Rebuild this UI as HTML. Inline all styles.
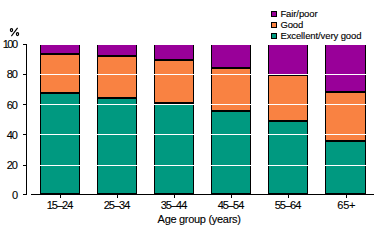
<!DOCTYPE html>
<html><head><meta charset="utf-8"><style>
html,body{margin:0;padding:0;background:#fff;width:378px;height:227px;overflow:hidden}
svg{display:block}
text{font-family:"Liberation Sans",sans-serif;fill:#000;stroke:#000;stroke-width:0.12px}
</style></head><body>
<svg width="378" height="227" viewBox="0 0 378 227">
<g shape-rendering="crispEdges">
<rect x="40" y="45" width="40" height="150" fill="#000"/>
<rect x="41" y="45" width="38" height="8" fill="#990099"/>
<rect x="41" y="55" width="38" height="37" fill="#F98242"/>
<rect x="41" y="94" width="38" height="99" fill="#009980"/>
<rect x="97" y="45" width="40" height="150" fill="#000"/>
<rect x="98" y="45" width="38" height="10" fill="#990099"/>
<rect x="98" y="57" width="38" height="40" fill="#F98242"/>
<rect x="98" y="99" width="38" height="94" fill="#009980"/>
<rect x="154" y="45" width="40" height="150" fill="#000"/>
<rect x="155" y="45" width="38" height="14" fill="#990099"/>
<rect x="155" y="61" width="38" height="41" fill="#F98242"/>
<rect x="155" y="104" width="38" height="89" fill="#009980"/>
<rect x="211" y="45" width="40" height="150" fill="#000"/>
<rect x="212" y="45" width="38" height="22" fill="#990099"/>
<rect x="212" y="69" width="38" height="41" fill="#F98242"/>
<rect x="212" y="112" width="38" height="81" fill="#009980"/>
<rect x="268" y="45" width="40" height="150" fill="#000"/>
<rect x="269" y="45" width="38" height="29" fill="#990099"/>
<rect x="269" y="76" width="38" height="44" fill="#F98242"/>
<rect x="269" y="122" width="38" height="71" fill="#009980"/>
<rect x="325" y="45" width="41" height="150" fill="#000"/>
<rect x="326" y="45" width="39" height="46" fill="#990099"/>
<rect x="326" y="93" width="39" height="47" fill="#F98242"/>
<rect x="326" y="142" width="39" height="51" fill="#009980"/>
<rect x="31" y="165" width="343" height="1" fill="#fff"/>
<rect x="31" y="134" width="343" height="1" fill="#fff"/>
<rect x="31" y="104" width="343" height="1" fill="#fff"/>
<rect x="31" y="74" width="343" height="1" fill="#fff"/>
<rect x="26" y="44" width="1" height="151" fill="#000"/>
<rect x="23" y="194" width="4" height="1" fill="#000"/>
<rect x="23" y="165" width="4" height="1" fill="#000"/>
<rect x="23" y="134" width="4" height="1" fill="#000"/>
<rect x="23" y="104" width="4" height="1" fill="#000"/>
<rect x="23" y="74" width="4" height="1" fill="#000"/>
<rect x="23" y="44" width="4" height="1" fill="#000"/>
<rect x="31" y="194" width="343" height="1" fill="#000"/>
<rect x="60" y="195" width="1" height="3" fill="#000"/>
<rect x="117" y="195" width="1" height="3" fill="#000"/>
<rect x="174" y="195" width="1" height="3" fill="#000"/>
<rect x="231" y="195" width="1" height="3" fill="#000"/>
<rect x="288" y="195" width="1" height="3" fill="#000"/>
<rect x="346" y="195" width="1" height="3" fill="#000"/>
<rect x="271" y="11" width="6" height="6" fill="#000"/>
<rect x="272" y="12" width="4" height="4" fill="#990099"/>
<rect x="271" y="22" width="6" height="6" fill="#000"/>
<rect x="272" y="23" width="4" height="4" fill="#F98242"/>
<rect x="271" y="33" width="6" height="6" fill="#000"/>
<rect x="272" y="34" width="4" height="4" fill="#009980"/>
</g>
<g>
<text x="17" y="199" text-anchor="end" font-size="11" letter-spacing="-1" >0</text>
<text x="17" y="169" text-anchor="end" font-size="11" letter-spacing="-1" >20</text>
<text x="17" y="139" text-anchor="end" font-size="11" letter-spacing="-1" >40</text>
<text x="17" y="109" text-anchor="end" font-size="11" letter-spacing="-1" >60</text>
<text x="17" y="78" text-anchor="end" font-size="11" letter-spacing="-1" >80</text>
<text x="16.5" y="48" text-anchor="end" font-size="11" letter-spacing="-1.5" >100</text>
<ellipse cx="11.5" cy="30" rx="1.1" ry="1.5" stroke="#000" stroke-width="1.25" fill="none"/><ellipse cx="17.5" cy="34" rx="1.1" ry="1.5" stroke="#000" stroke-width="1.25" fill="none"/>
<path d="M17.6 27.8L11.4 36.2" stroke="#000" stroke-width="1.1" fill="none"/>
<text x="59.5" y="209" text-anchor="middle" font-size="11" letter-spacing="-1" >15–24</text>
<text x="116.5" y="209" text-anchor="middle" font-size="11" letter-spacing="-1" >25–34</text>
<text x="173.5" y="209" text-anchor="middle" font-size="11" letter-spacing="-1" >35–44</text>
<text x="230.5" y="209" text-anchor="middle" font-size="11" letter-spacing="-1" >45–54</text>
<text x="287.5" y="209" text-anchor="middle" font-size="11" letter-spacing="-1" >55–64</text>
<text x="346.2" y="209" text-anchor="middle" font-size="11" letter-spacing="-0.3" >65+</text>
<text x="199.1" y="223" text-anchor="middle" font-size="11" letter-spacing="-0.3" >Age group (years)</text>
<text x="280.4" y="17" text-anchor="start" font-size="9.5" letter-spacing="-0.1" >Fair/poor</text>
<text x="280.4" y="28" text-anchor="start" font-size="9.5" letter-spacing="-0.1" >Good</text>
<text x="280.4" y="39" text-anchor="start" font-size="9.5" letter-spacing="-0.1" >Excellent/very good</text>
</g>
</svg>
</body></html>
